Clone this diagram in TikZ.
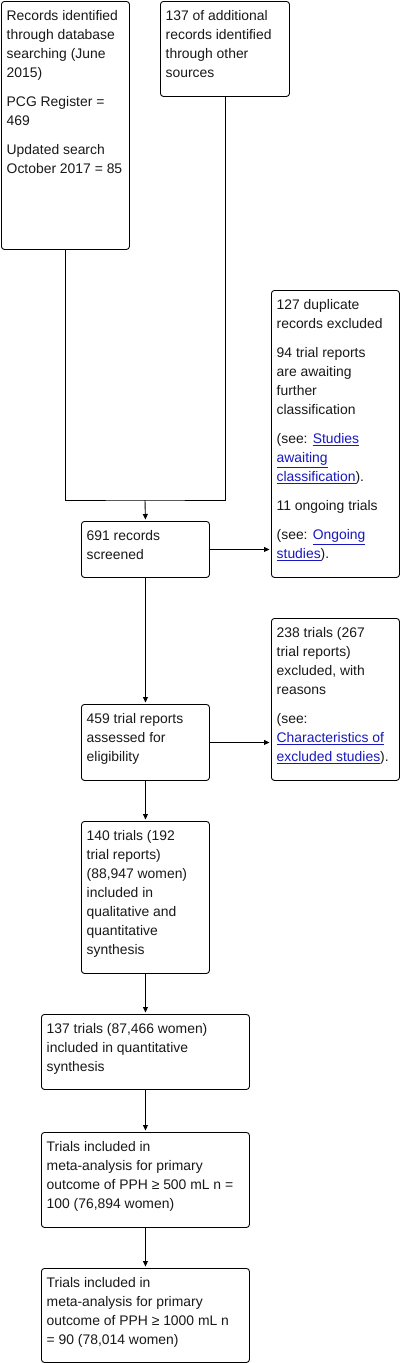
\documentclass[tikz,border=0pt]{standalone}
\usepackage{fontspec}
\setmainfont{Liberation Sans}
\usetikzlibrary{arrows.meta}
\definecolor{linkblue}{RGB}{24,24,190}
\newcommand\lk[1]{\textcolor{linkblue}{\underline{#1}}}
\newcommand\flowbox[6]{%
  \node[boxshape, minimum width=#4, minimum height=#5, anchor=north west] (#1) at (#2,#3) {};
  \node[boxtext, anchor=north west] (#1t) at ([shift={(5.5,9.5)}]#1.north west) {#6};}
\tikzset{
  boxshape/.style={draw=black, line width=0.9pt, rounded corners=3pt, inner sep=0pt, fill=white},
  boxtext/.style={inner sep=0pt, align=left, font=\fontsize{13.9}{19}\selectfont, text=black!90},
  arr/.style={line width=0.9pt, -{Triangle[length=5.5pt,width=5pt]}, shorten >=1.5pt},
  conn/.style={line width=0.9pt}
}
\begin{document}
\begin{tikzpicture}[x=1pt,y=-1pt]
\useasboundingbox (0,0) rectangle (402,1363);
\flowbox{A}{1}{1}{128}{248}{Records identified\\through database\\searching (June\\2015)\\[10pt]PCG Register =\\469\\[10pt]Updated search\\October 2017 = 85}
\flowbox{B}{160}{1}{129}{95}{137 of additional\\records identified\\through other\\sources}
\flowbox{C}{81}{521}{128}{56}{691 records\\screened}
\flowbox{D}{271}{290}{128}{287}{127 duplicate\\records excluded\\[10pt]94 trial reports\\are awaiting\\further\\classification\\[10pt](see: \lk{Studies}\\\lk{awaiting}\\\lk{classification}).\\[10pt]11 ongoing trials\\[10pt](see: \lk{Ongoing}\\\lk{studies}).}
\flowbox{E}{81}{704}{128}{76}{459 trial reports\\assessed for\\eligibility}
\flowbox{F}{271}{618}{128}{162}{238 trials (267\\trial reports)\\excluded, with\\reasons\\[10pt](see:\\\lk{Characteristics of}\\\lk{excluded studies}).}
\flowbox{G}{81}{821}{128}{152}{140 trials (192\\trial reports)\\(88,947 women)\\included in\\qualitative and\\quantitative\\synthesis}
\flowbox{H}{41}{1014}{208}{75}{137 trials (87,466 women)\\included in quantitative\\synthesis}
\flowbox{I}{41}{1132}{208}{95}{Trials included in\\meta-analysis for primary\\outcome of PPH ≥ 500 mL n =\\100 (76,894 women)}
\flowbox{J}{41}{1268}{208}{94}{Trials included in\\meta-analysis for primary\\outcome of PPH ≥ 1000 mL n\\= 90 (78,014 women)}
\coordinate (jn) at (145,500);
\draw[conn] (A.south) |- (jn) -| (B.south);
\draw[arr] (jn) -- (C.north);
\draw[arr] (C.east) -- (D.west |- C.east);
\draw[arr] (C.south) -- (E.north);
\draw[arr] (E.east) -- (F.west |- E.east);
\draw[arr] (E.south) -- (G.north);
\draw[arr] (G.south) -- (H.north);
\draw[arr] (H.south) -- (I.north);
\draw[arr] (I.south) -- (J.north);
\end{tikzpicture}
\end{document}
